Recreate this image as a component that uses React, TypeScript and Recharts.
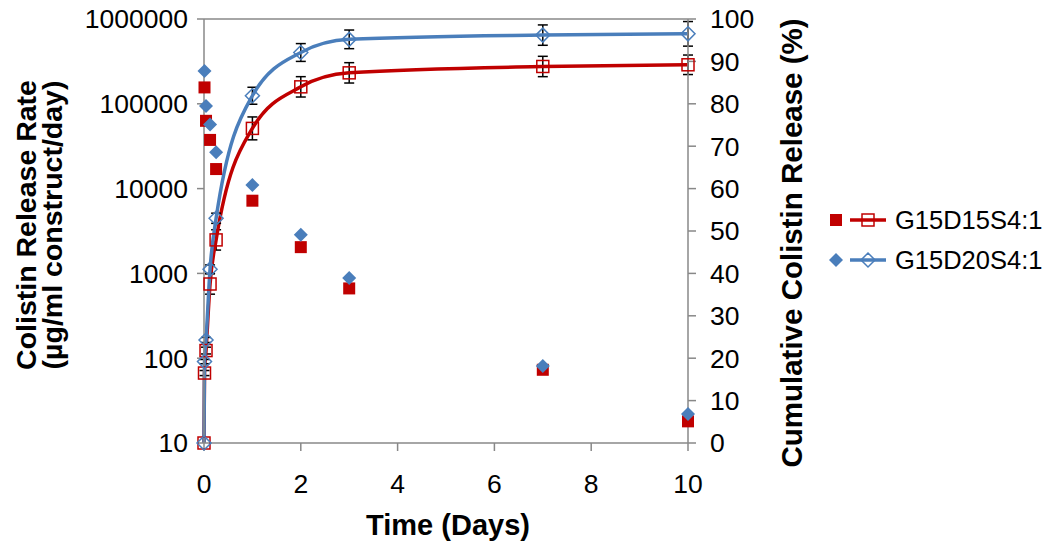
import React from "react";
import { ComposedChart, XAxis, YAxis, Line, Scatter, ErrorBar, ReferenceLine } from "recharts";

// Time points (days)
const times = [0, 0.0104, 0.0417, 0.125, 0.25, 1, 2, 3, 7, 10];
// Release rate (µg/ml construct/day), left log axis
const rateD15 = [null, 156000, 63000, 37500, 17000, 7200, 2040, 665, 73, 18];
const rateD20 = [null, 244000, 94000, 57000, 26800, 11000, 2850, 880, 81, 22];
// Cumulative release (%), right axis
const cumD15 = [0, 16.5, 21.8, 37.5, 47.9, 74.2, 84.0, 87.3, 88.8, 89.2];
const cumD20 = [0, 19.2, 24.3, 41.0, 53.0, 81.9, 92.1, 95.2, 96.2, 96.5];
const errD15 = [0, 0.6, 0.8, 2.4, 2.4, 2.7, 2.4, 2.4, 2.4, 2.3];
const errD20 = [0, 0.5, 0.6, 1.0, 1.2, 2.0, 2.1, 2.2, 2.4, 2.9];

const xTicks = [0, 2, 4, 6, 8, 10];
const leftTicks = [10, 100, 1000, 10000, 100000, 1000000];
const rightTicks = [0, 10, 20, 30, 40, 50, 60, 70, 80, 90, 100];

const seriesNames = ["G15D15S4:1", "G15D20S4:1"];

const RED = "#C00000";
const BLUE = "#4A7EBB";
const AXIS = "#888888";
const FONT = "'Liberation Sans', Arial, sans-serif";

const rateData = (vals: (number | null)[]) =>
  times.map((t, i) => ({ t, rate: vals[i] })).filter((d) => d.rate !== null);
const cumData = (vals: number[], errs: number[]) =>
  times.map((t, i) => ({ t, cum: vals[i], err: errs[i] }));

const redRate = rateData(rateD15);
const blueRate = rateData(rateD20);
const redCum = cumData(cumD15, errD15);
const blueCum = cumData(cumD20, errD20);

const diamondPath = (cx: number, cy: number, h: number) =>
  `M${cx},${cy - h}L${cx + h},${cy}L${cx},${cy + h}L${cx - h},${cy}Z`;

const FilledSquare = (p: any) => (
  <rect x={p.cx - 6} y={p.cy - 6} width={12} height={12} fill={RED} />
);
const FilledDiamond = (p: any) => <path d={diamondPath(p.cx, p.cy, 7)} fill={BLUE} />;

const OpenSquare = (p: any) => (
  <rect key={`sq-${p.index}`} x={p.cx - 6} y={p.cy - 6} width={12} height={12} fill="none" stroke={RED} strokeWidth={1.5} />
);
const OpenDiamond = (p: any) => (
  <path key={`dm-${p.index}`} d={diamondPath(p.cx, p.cy, 7)} fill="none" stroke={BLUE} strokeWidth={1.5} />
);

const tickStyle = { fill: "#000", fontSize: 26.5, fontFamily: FONT };

export default function App() {
  return (
    <div style={{ position: "absolute", left: 0, top: 0, width: 1050, height: 550, background: "#fff" }}>
      <ComposedChart width={1050} height={550} margin={{ top: 19, right: 0, bottom: 0, left: 0 }}>
        <XAxis
          type="number"
          dataKey="t"
          domain={[0, 10]}
          ticks={xTicks}
          height={107}
          stroke={AXIS}
          strokeWidth={1.5}
          tickSize={8}
          tickMargin={23}
          tick={tickStyle}
          label={{
            content: () => (
              <text x={448} y={535} textAnchor="middle" fontFamily={FONT} fontWeight="bold" fontSize={29} fill="#000">
                Time (Days)
              </text>
            ),
          }}
        />
        <YAxis
          yAxisId="left"
          orientation="left"
          scale="log"
          domain={[10, 1000000]}
          ticks={leftTicks}
          width={204}
          stroke={AXIS}
          strokeWidth={1.5}
          tickSize={7}
          tickMargin={9}
          tick={tickStyle}
          tickFormatter={(v: number) => String(v)}
          label={{
            content: () => (
              <g fontFamily={FONT} fontWeight="bold" fontSize={28.5} fill="#000">
                <text transform="translate(36,225) rotate(-90)" textAnchor="middle">Colistin Release Rate</text>
                <text transform="translate(62,225) rotate(-90)" textAnchor="middle">(µg/ml construct/day)</text>
              </g>
            ),
          }}
        />
        <YAxis
          yAxisId="right"
          orientation="right"
          domain={[0, 100]}
          ticks={rightTicks}
          width={362}
          stroke={AXIS}
          strokeWidth={1.5}
          tickSize={8}
          tickMargin={14}
          tick={{ ...tickStyle, textAnchor: "start" }}
          label={{
            content: () => (
              <text transform="translate(802,243) rotate(-90)" textAnchor="middle" fontFamily={FONT} fontWeight="bold" fontSize={29.5} fill="#000">
                Cumulative Colistin Release (%)
              </text>
            ),
          }}
        />
        <ReferenceLine yAxisId="left" y={1000000} stroke={AXIS} strokeWidth={1.5} />
        <Scatter yAxisId="left" name={seriesNames[0]} data={redRate} dataKey="rate" shape={FilledSquare} isAnimationActive={false} />
        <Scatter yAxisId="left" name={seriesNames[1]} data={blueRate} dataKey="rate" shape={FilledDiamond} isAnimationActive={false} />
        <Line
          yAxisId="right"
          name={seriesNames[0]}
          data={redCum}
          dataKey="cum"
          type="monotone"
          stroke={RED}
          strokeWidth={3.5}
          dot={OpenSquare}
          activeDot={false}
          isAnimationActive={false}
        >
          <ErrorBar dataKey="err" width={5} stroke="#000" strokeWidth={1.5} direction="y" isAnimationActive={false} />
        </Line>
        <Line
          yAxisId="right"
          name={seriesNames[1]}
          data={blueCum}
          dataKey="cum"
          type="monotone"
          stroke={BLUE}
          strokeWidth={3.5}
          dot={OpenDiamond}
          activeDot={false}
          isAnimationActive={false}
        >
          <ErrorBar dataKey="err" width={5} stroke="#000" strokeWidth={1.5} direction="y" isAnimationActive={false} />
        </Line>
      </ComposedChart>
      <svg width={1050} height={550} style={{ position: "absolute", left: 0, top: 0, pointerEvents: "none" }}>
        <g fontFamily={FONT} fontSize={25.5} fill="#000">
          <rect x={830} y={214} width={12} height={12} fill={RED} />
          <line x1={850} y1={220} x2={886} y2={220} stroke={RED} strokeWidth={3.5} />
          <rect x={862} y={214} width={12} height={12} fill="none" stroke={RED} strokeWidth={1.5} />
          <text x={895} y={229}>{seriesNames[0]}</text>
          <path d={diamondPath(836, 260, 7)} fill={BLUE} />
          <line x1={850} y1={260} x2={886} y2={260} stroke={BLUE} strokeWidth={3.5} />
          <path d={diamondPath(868, 260, 7)} fill="none" stroke={BLUE} strokeWidth={1.5} />
          <text x={895} y={269}>{seriesNames[1]}</text>
        </g>
      </svg>
    </div>
  );
}
